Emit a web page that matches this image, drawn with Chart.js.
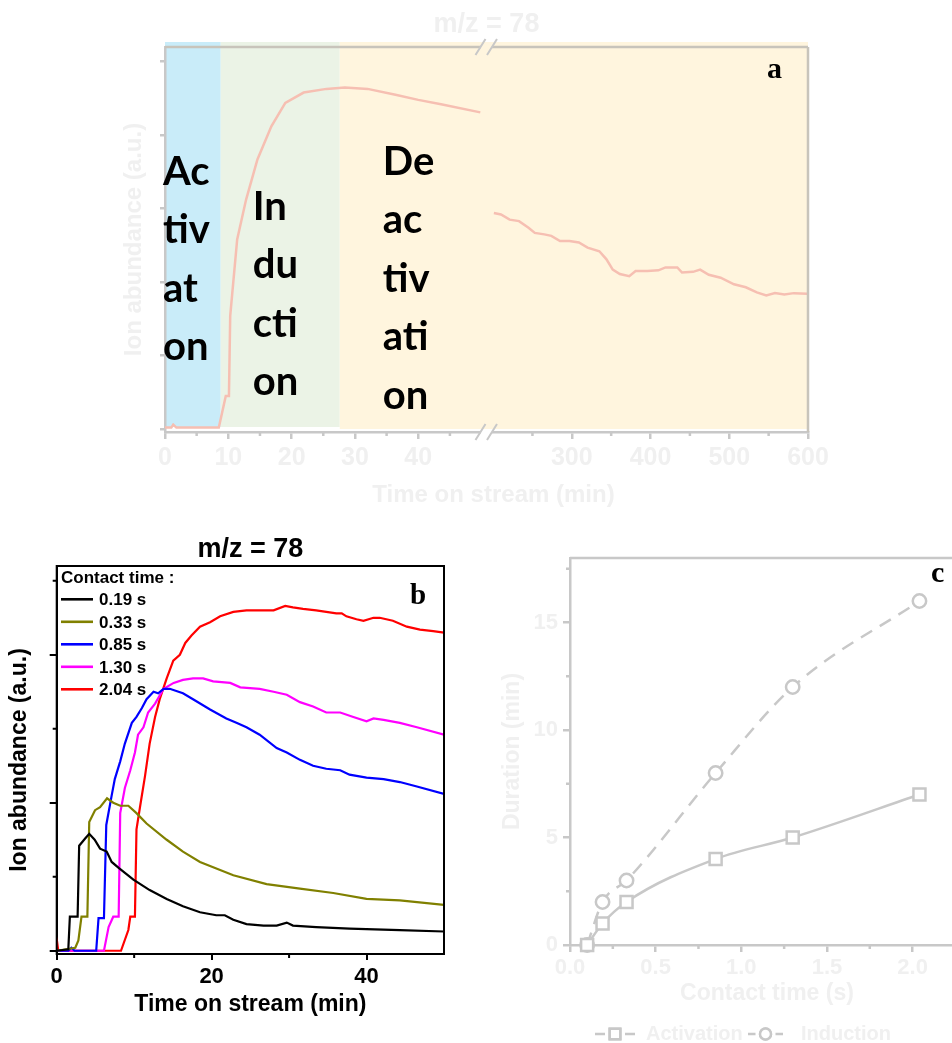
<!DOCTYPE html>
<html>
<head>
<meta charset="utf-8">
<script src="https://cdn.jsdelivr.net/npm/chart.js@4.4.0/dist/chart.umd.min.js"></script>
<style>
  html, body { margin: 0; padding: 0; background: #fff; overflow: hidden; width: 952px; height: 1043px; }
  .panel { position: absolute; }
</style>
</head>
<body>
<div class="panel" style="left:0;top:0;width:952px;height:520px"><canvas id="chartA"></canvas></div>
<div class="panel" style="left:0;top:530px;width:470px;height:513px"><canvas id="chartB"></canvas></div>
<div class="panel" style="left:480px;top:530px;width:520px;height:513px"><canvas id="chartC"></canvas></div>
<script>
// ---- panel a : long run at 2.04 s, broken time axis ----
const aLeftTime  = [0, 1, 1.3, 1.8, 8.5, 9.6, 10.1, 10.3, 11.4, 12.8, 14.6, 16.8, 19.0, 21.9, 25.5, 28.4, 32.0, 36.4, 40.0, 43.6, 49.8];
const aLeftAbund = [0.02, 0.02, 0.06, 0.02, 0.02, 0.45, 0.45, 1.54, 2.58, 3.12, 3.67, 4.12, 4.44, 4.58, 4.63, 4.65, 4.63, 4.55, 4.48, 4.42, 4.31];
const aRightTime  = [201, 210, 221, 233, 245, 253, 265, 274, 285, 297, 309, 320, 335, 344, 352, 361, 373, 381, 396, 410, 419, 434, 440, 454, 463, 474, 489, 506, 521, 535, 547, 558, 570, 582, 599];
const aRightAbund = [2.94, 2.92, 2.85, 2.83, 2.74, 2.67, 2.65, 2.63, 2.56, 2.56, 2.54, 2.47, 2.42, 2.31, 2.17, 2.11, 2.08, 2.15, 2.15, 2.16, 2.20, 2.20, 2.13, 2.14, 2.17, 2.10, 2.06, 1.97, 1.93, 1.86, 1.82, 1.85, 1.83, 1.85, 1.84];
const aLeftTicks = [0, 10, 20, 30, 40];
const aLeftMinor = [5, 15, 25, 35, 45];
const aRightTicks = [300, 400, 500, 600];
const aRightMinor = [250, 350, 450, 550];
const aYTicks = [0, 1, 2, 3, 4, 5];
const phaseStart = [0, 8.8, 27.6];
const phaseEnd = [8.8, 27.6, 600];
const phaseSyllables = [['Ac', 'tiv', 'at', 'on'], ['In', 'du', 'cti', 'on'], ['De', 'ac', 'tiv', 'ati', 'on']];

// ---- panel b : m/z 78 for five contact times ----
const contactLabels = ['0.19 s', '0.33 s', '0.85 s', '1.30 s', '2.04 s'];
const b019Time  = [0, 1.5, 1.7, 2.7, 2.9, 3.7, 4.2, 4.9, 5.6, 6.45, 7.1, 8.0, 9.9, 12.0, 14.2, 16.3, 18.5, 20.6, 21.7, 22.8, 24.5, 26.7, 28.4, 29.7, 30.5, 33.5, 37.8, 44.3, 50];
const b019Abund = [0, 0.01, 0.23, 0.23, 0.71, 0.76, 0.79, 0.75, 0.69, 0.67, 0.60, 0.56, 0.48, 0.41, 0.35, 0.30, 0.26, 0.24, 0.24, 0.21, 0.18, 0.17, 0.17, 0.19, 0.17, 0.16, 0.15, 0.14, 0.13];
const b033Time  = [0, 2.4, 2.8, 3.2, 3.96, 4.2, 4.95, 5.6, 6.5, 7.3, 8.2, 9.25, 10.3, 11.6, 14.2, 16.3, 18.5, 22.8, 27.1, 31.4, 35.7, 40, 44.3, 50];
const b033Abund = [0, 0.02, 0.07, 0.23, 0.23, 0.87, 0.95, 0.97, 1.03, 1.00, 0.98, 0.98, 0.93, 0.86, 0.75, 0.67, 0.60, 0.51, 0.45, 0.42, 0.39, 0.35, 0.34, 0.31];
const b085Time  = [0, 1.5, 1.9, 2.3, 5.1, 5.4, 6.1, 6.4, 7.1, 7.5, 8.2, 8.8, 9.7, 10.3, 11.0, 11.6, 12.5, 13.1, 13.8, 14.6, 16.3, 17.6, 19.8, 21.9, 23.2, 24.5, 26.2, 28.4, 29.7, 31.4, 33.1, 34.8, 36.6, 37.8, 40, 42.2, 44.3, 46.5, 50];
const b085Abund = [0, 0, 0.02, 0, 0, 0.22, 0.22, 0.85, 1.05, 1.16, 1.28, 1.40, 1.54, 1.58, 1.64, 1.70, 1.75, 1.74, 1.77, 1.77, 1.74, 1.70, 1.63, 1.57, 1.54, 1.51, 1.46, 1.37, 1.34, 1.29, 1.25, 1.23, 1.22, 1.19, 1.17, 1.16, 1.14, 1.11, 1.06];
const b130Time  = [0, 6.1, 6.7, 7.3, 8.0, 8.2, 8.8, 9.5, 10.1, 10.5, 11.2, 11.8, 12.7, 13.8, 15.1, 16.3, 17.6, 18.9, 20.2, 22.4, 23.7, 26.2, 28.0, 29.7, 31.4, 33.1, 34.8, 36.6, 38.3, 40, 40.9, 42.2, 44.3, 46.5, 50];
const b130Abund = [0, 0, 0.16, 0.23, 0.23, 0.93, 1.10, 1.22, 1.34, 1.46, 1.51, 1.61, 1.67, 1.77, 1.81, 1.83, 1.84, 1.84, 1.82, 1.81, 1.78, 1.77, 1.75, 1.73, 1.68, 1.65, 1.61, 1.61, 1.58, 1.55, 1.57, 1.56, 1.54, 1.51, 1.46];
const b204Time  = [0, 0.1, 0.2, 8.3, 9.25, 9.5, 10.1, 10.3, 10.75, 11.4, 12.0, 12.7, 13.3, 14.2, 15.05, 15.9, 16.6, 17.4, 18.5, 19.8, 21.1, 22.8, 24.5, 26.7, 28.0, 29.5, 30.5, 31.8, 33.5, 34.8, 36.1, 36.8, 37.4, 38.7, 39.6, 40.9, 41.7, 43.4, 45.2, 46.9, 48.6, 50];
const b204Abund = [0, 0.04, 0, 0, 0.14, 0.23, 0.23, 0.82, 0.97, 1.18, 1.40, 1.58, 1.70, 1.84, 1.96, 2.00, 2.08, 2.13, 2.19, 2.22, 2.26, 2.29, 2.30, 2.30, 2.30, 2.33, 2.32, 2.31, 2.30, 2.29, 2.28, 2.28, 2.26, 2.24, 2.23, 2.25, 2.25, 2.23, 2.19, 2.17, 2.16, 2.15];
const bXTicks = [0, 20, 40];
const bXMinor = [10, 30];
const bYTicks = [0, 1, 2];
const bYMinor = [0.5, 1.5, 2.5];

// ---- panel c : duration of the phases vs contact time ----
const cContact = [0.1, 0.19, 0.33, 0.85, 1.30, 2.04];
const cActivation = [0, 1, 2, 4, 5, 7];
const cInduction = [0, 2, 3, 8, 12, 16];
const cXTicks = [0, 0.5, 1.0, 1.5, 2.0];
const cXMinor = [0.25, 0.75, 1.25, 1.75, 2.25];
const cYTicks = [0, 5, 10, 15];
const cYMinor = [2.5, 7.5, 12.5, 17.5];

Chart.defaults.font.family = '"Liberation Sans", Arial, sans-serif';
Chart.defaults.animation = false;
Chart.defaults.maintainAspectRatio = false;
Chart.defaults.plugins.legend.display = false;
Chart.defaults.plugins.tooltip.enabled = false;

const FAINT = '#f0f0f0';
const GREY = '#c8c8c8';

function toPoints(xs, ys) {
  return xs.map((x, i) => ({ x: x, y: ys[i] }));
}

function fixedTicks(values) {
  return s => { s.ticks = values.map(v => ({ value: v })); };
}

function drawMinorTicks(chart, scaleId, values, len, color, width) {
  const s = chart.scales[scaleId];
  const ctx = chart.ctx;
  ctx.save();
  ctx.strokeStyle = color;
  ctx.lineWidth = width;
  ctx.beginPath();
  for (const v of values) {
    if (s.isHorizontal()) {
      const x = s.getPixelForValue(v);
      ctx.moveTo(x, s.top);
      ctx.lineTo(x, s.top + len);
    } else {
      const y = s.getPixelForValue(v);
      ctx.moveTo(s.right, y);
      ctx.lineTo(s.right - len, y);
    }
  }
  ctx.stroke();
  ctx.restore();
}

function boldFont(size, family) {
  return { size: size, weight: 'bold', family: family };
}

// ------------------------------------------------------------------ a
const phasePlugin = {
  id: 'phases',
  beforeDraw(chart) {
    const { ctx, chartArea } = chart;
    const xL = chart.scales.xL, xR = chart.scales.xR;
    const colors = ['#c9ecf9', '#ebf3e6', '#fff5de'];
    const bottoms = [chartArea.bottom - 5, chartArea.bottom - 5, chartArea.bottom - 3];
    ctx.save();
    phaseStart.forEach((t0, i) => {
      const t1 = phaseEnd[i];
      const x0 = xL.getPixelForValue(t0);
      const x1 = t1 > xL.max ? xR.getPixelForValue(t1) : xL.getPixelForValue(t1);
      ctx.fillStyle = colors[i];
      ctx.fillRect(x0, chartArea.top - 5, x1 - x0, bottoms[i] - chartArea.top + 5);
    });
    ctx.restore();
  },
  afterDatasetsDraw(chart) {
    const { ctx, chartArea } = chart;
    const xL = chart.scales.xL, xR = chart.scales.xR;
    ctx.save();
    // frame top and right
    ctx.lineWidth = 2.5;
    ctx.strokeStyle = '#c8c4bb';
    ctx.beginPath();
    ctx.moveTo(chartArea.left, chartArea.top);
    ctx.lineTo(chartArea.right, chartArea.top);
    ctx.moveTo(chartArea.right, chartArea.top);
    ctx.lineTo(chartArea.right, chartArea.bottom);
    ctx.stroke();
    // axis break marks
    const bx = xR.left;
    [[chartArea.top, '#fff5de'], [chartArea.bottom, '#ffffff']].forEach(([by, bg]) => {
      ctx.fillStyle = bg;
      ctx.fillRect(bx - 5, by - 2, 11, 4);
      ctx.strokeStyle = GREY;
      ctx.lineWidth = 2;
      ctx.beginPath();
      [-5.5, 6].forEach(dx => {
        ctx.moveTo(bx + dx - 5, by + 8);
        ctx.lineTo(bx + dx + 5, by - 8);
      });
      ctx.stroke();
    });
    // phase names
    const textX = [-2, 32, 43];
    const firstBase = [185, 220, 175];
    ctx.fillStyle = '#000';
    ctx.font = 'bold 40px Lato, "Open Sans", sans-serif';
    ctx.textAlign = 'left';
    ctx.textBaseline = 'alphabetic';
    phaseSyllables.forEach((parts, i) => {
      const x = xL.getPixelForValue(phaseStart[i]) + textX[i];
      parts.forEach((p, j) => ctx.fillText(p, x, firstBase[i] + j * 58.4));
    });
    // x title spanning both segments
    ctx.fillStyle = FAINT;
    ctx.font = 'bold 24px "Liberation Sans", Arial, sans-serif';
    ctx.textAlign = 'center';
    ctx.textBaseline = 'middle';
    ctx.fillText('Time on stream (min)', (chartArea.left + chartArea.right) / 2 + 7, 495);
    // panel letter
    ctx.fillStyle = '#000';
    ctx.font = 'bold 30px "Liberation Serif", "Times New Roman", serif';
    ctx.textAlign = 'left';
    ctx.textBaseline = 'alphabetic';
    ctx.fillText('a', 767, 78);
    ctx.restore();
    drawMinorTicks(chart, 'xL', aLeftMinor, 4, GREY, 2.5);
    drawMinorTicks(chart, 'xR', aRightMinor, 4, GREY, 2.5);
  }
};

const aXCommon = {
  type: 'linear',
  position: 'bottom',
  stack: 'time',
  afterFit: s => { s.height = 45; },
  border: { display: true, color: GREY, width: 2.5 },
  grid: { drawOnChartArea: false, drawTicks: true, tickLength: 7, color: GREY, lineWidth: 2.5 },
  ticks: { color: FAINT, font: boldFont(25), padding: 4, maxRotation: 0, autoSkip: false }
};

new Chart(document.getElementById('chartA'), {
  type: 'line',
  data: {
    datasets: [
      { label: '2.04 s (0-50 min)', data: toPoints(aLeftTime, aLeftAbund), xAxisID: 'xL', yAxisID: 'y',
        borderColor: '#f6bfb2', borderWidth: 2.5, pointRadius: 0, tension: 0 },
      { label: '2.04 s (200-600 min)', data: toPoints(aRightTime, aRightAbund), xAxisID: 'xR', yAxisID: 'y',
        borderColor: '#f6bfb2', borderWidth: 2.5, pointRadius: 0, tension: 0 }
    ]
  },
  options: {
    layout: { padding: { left: 100, right: 144, top: 0, bottom: 43 } },
    plugins: {
      title: { display: true, text: 'm/z = 78', fullSize: false, color: FAINT, font: boldFont(27),
               padding: { top: 8, bottom: 6.6 } }
    },
    scales: {
      xL: Object.assign({}, aXCommon, { min: 0, max: 50.7, stackWeight: 321, afterBuildTicks: fixedTicks(aLeftTicks) }),
      xR: Object.assign({}, aXCommon, { min: 191, max: 600, stackWeight: 322, afterBuildTicks: fixedTicks(aRightTicks) }),
      y: {
        type: 'linear', position: 'left', min: -0.04, max: 5.2,
        afterBuildTicks: fixedTicks(aYTicks),
        afterFit: s => { s.width = 65; },
        border: { display: true, color: GREY, width: 2.5 },
        grid: { drawOnChartArea: false, drawTicks: true, tickLength: 5, color: GREY, lineWidth: 2.5 },
        ticks: { display: false },
        title: { display: true, text: 'Ion abundance (a.u.)', color: FAINT, font: boldFont(24), padding: { top: 20, bottom: 0 } }
      }
    }
  },
  plugins: [phasePlugin]
});

// ------------------------------------------------------------------ b
const bColors = ['#000000', '#808000', '#0000ff', '#ff00ff', '#ff0000'];
const bSeries = [
  [b019Time, b019Abund], [b033Time, b033Abund], [b085Time, b085Abund], [b130Time, b130Abund], [b204Time, b204Abund]
];

const bDecorPlugin = {
  id: 'bDecor',
  afterDatasetsDraw(chart) {
    const { ctx, chartArea } = chart;
    ctx.save();
    ctx.strokeStyle = '#000';
    ctx.lineWidth = 2;
    ctx.strokeRect(chartArea.left, chartArea.top, chartArea.right - chartArea.left, chartArea.bottom - chartArea.top);
    // legend inside the plot
    ctx.fillStyle = '#000';
    ctx.textAlign = 'left';
    ctx.textBaseline = 'alphabetic';
    ctx.font = 'bold 17px "Liberation Sans", Arial, sans-serif';
    ctx.fillText('Contact time :', 61, 52.5);
    chart.data.datasets.forEach((ds, i) => {
      const ly = 69.3 + i * 22.5;
      ctx.strokeStyle = ds.borderColor;
      ctx.lineWidth = 2.6;
      ctx.beginPath();
      ctx.moveTo(61, ly);
      ctx.lineTo(93, ly);
      ctx.stroke();
      ctx.font = 'bold 17px "Liberation Sans", Arial, sans-serif';
      ctx.fillText(ds.label, 99, ly + 6);
    });
    ctx.font = 'bold 29px "Liberation Serif", "Times New Roman", serif';
    ctx.fillText('b', 410, 74);
    ctx.restore();
    drawMinorTicks(chart, 'x', bXMinor, 4, '#000', 2);
    drawMinorTicks(chart, 'y', bYMinor, 4, '#000', 2);
  }
};

new Chart(document.getElementById('chartB'), {
  type: 'line',
  data: {
    datasets: bSeries.map((s, i) => ({
      label: contactLabels[i], data: toPoints(s[0], s[1]),
      borderColor: bColors[i], borderWidth: 2.2, pointRadius: 0, tension: 0
    }))
  },
  options: {
    layout: { padding: { left: 0, right: 26, top: 0, bottom: 0 } },
    plugins: {
      title: { display: true, text: 'm/z = 78', fullSize: false, color: '#000', font: boldFont(27),
               padding: { top: 3, bottom: 0.6 } }
    },
    scales: {
      x: {
        type: 'linear', min: 0, max: 50,
        afterBuildTicks: fixedTicks(bXTicks),
        afterFit: s => { s.height = 89; },
        border: { display: true, color: '#000', width: 2 },
        grid: { drawOnChartArea: false, drawTicks: true, tickLength: 6, color: '#000', lineWidth: 2 },
        ticks: { color: '#000', font: boldFont(22), padding: 4, maxRotation: 0, autoSkip: false },
        title: { display: true, text: 'Time on stream (min)', color: '#000', font: boldFont(23), padding: { top: 0, bottom: 25 } }
      },
      y: {
        type: 'linear', min: -0.022, max: 2.6,
        afterBuildTicks: fixedTicks(bYTicks),
        afterFit: s => { s.width = 56.7; },
        border: { display: true, color: '#000', width: 2 },
        grid: { drawOnChartArea: false, drawTicks: true, tickLength: 7, color: '#000', lineWidth: 2 },
        ticks: { display: false },
        title: { display: true, text: 'Ion abundance (a.u.)', color: '#000', font: boldFont(23), padding: { top: 6, bottom: 0 } }
      }
    }
  },
  plugins: [bDecorPlugin]
});

// ------------------------------------------------------------------ c
const cDecorPlugin = {
  id: 'cDecor',
  afterDatasetsDraw(chart) {
    const { ctx, chartArea } = chart;
    ctx.save();
    ctx.strokeStyle = GREY;
    ctx.lineWidth = 2.5;
    ctx.beginPath();
    ctx.moveTo(chartArea.left, chartArea.top);
    ctx.lineTo(chartArea.right, chartArea.top);
    ctx.lineTo(chartArea.right, chartArea.bottom);
    ctx.stroke();
    ctx.fillStyle = '#000';
    ctx.font = 'bold 30px "Liberation Serif", "Times New Roman", serif';
    ctx.textAlign = 'left';
    ctx.textBaseline = 'alphabetic';
    ctx.fillText('c', 451, 52);
    // legend under the axis: dash, marker, dash, label
    const items = [[115, 155, 166], [268, 303, 321]];
    chart.data.datasets.forEach((ds, i) => {
      const [l0, l1, tx] = items[i];
      const ly = 504;
      const mid = (l0 + l1) / 2;
      ctx.strokeStyle = GREY;
      ctx.lineWidth = 2.5;
      ctx.beginPath();
      ctx.moveTo(l0, ly);
      ctx.lineTo(mid - 10, ly);
      ctx.moveTo(mid + 10, ly);
      ctx.lineTo(l1, ly);
      ctx.stroke();
      Chart.helpers.drawPoint(ctx, {
        pointStyle: ds.pointStyle, radius: ds.pointStyle === 'rect' ? 7.5 : 5.5, borderWidth: 2.5
      }, mid, ly);
      ctx.fillStyle = '#fff';
      ctx.fill();
      ctx.stroke();
      ctx.fillStyle = FAINT;
      ctx.font = 'bold 20px "Liberation Sans", Arial, sans-serif';
      ctx.textBaseline = 'middle';
      ctx.fillText(ds.label, tx, ly);
    });
    ctx.restore();
    drawMinorTicks(chart, 'x', cXMinor, 4, GREY, 2.5);
    drawMinorTicks(chart, 'y', cYMinor, 4, GREY, 2.5);
  }
};

new Chart(document.getElementById('chartC'), {
  type: 'line',
  data: {
    datasets: [
      { label: 'Activation', data: toPoints(cContact, cActivation),
        borderColor: GREY, borderWidth: 2.5, cubicInterpolationMode: 'monotone',
        pointStyle: 'rect', pointRadius: 8.5, pointBorderWidth: 2.5, pointBorderColor: GREY, pointBackgroundColor: '#fff', clip: false },
      { label: 'Induction', data: toPoints(cContact, cInduction),
        borderColor: GREY, borderWidth: 2.5, borderDash: [13, 9], cubicInterpolationMode: 'monotone',
        pointStyle: 'circle', pointRadius: 6.7, pointBorderWidth: 2.5, pointBorderColor: GREY, pointBackgroundColor: '#fff', clip: false }
    ]
  },
  options: {
    layout: { padding: { left: 0, right: 36, top: 28, bottom: 28 } },
    scales: {
      x: {
        type: 'linear', min: 0, max: 2.3,
        afterBuildTicks: fixedTicks(cXTicks),
        afterFit: s => { s.height = 70; },
        border: { display: true, color: GREY, width: 2.5 },
        grid: { drawOnChartArea: false, drawTicks: true, tickLength: 7, color: GREY, lineWidth: 2.5 },
        ticks: { color: FAINT, font: boldFont(22), padding: 3, maxRotation: 0, autoSkip: false, callback: v => v.toFixed(1) },
        title: { display: true, text: 'Contact time (s)', color: FAINT, font: boldFont(23), padding: { top: 0, bottom: 8 } }
      },
      y: {
        type: 'linear', min: 0, max: 18,
        afterBuildTicks: fixedTicks(cYTicks),
        afterFit: s => { s.width = 90; },
        border: { display: true, color: GREY, width: 2.5 },
        grid: { drawOnChartArea: false, drawTicks: true, tickLength: 7, color: GREY, lineWidth: 2.5 },
        ticks: { color: FAINT, font: boldFont(22), padding: 5 },
        title: { display: true, text: 'Duration (min)', color: FAINT, font: boldFont(23), padding: { top: 19, bottom: 0 } }
      }
    }
  },
  plugins: [cDecorPlugin]
});
</script>
</body>
</html>
